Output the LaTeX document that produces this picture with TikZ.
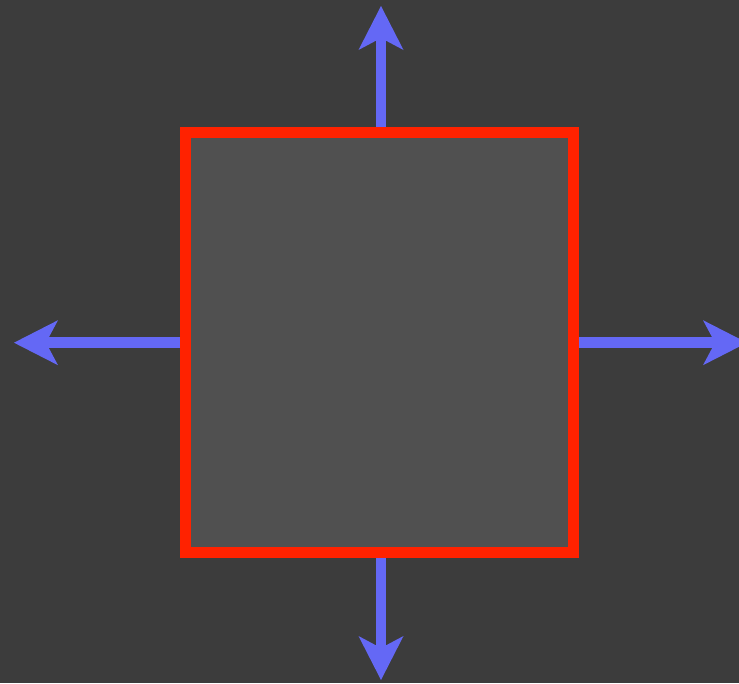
\documentclass[tikz,border=0pt]{standalone}
\usetikzlibrary{arrows.meta}
\definecolor{bgc}{HTML}{3C3C3C}
\definecolor{boxfill}{HTML}{505050}
\definecolor{boxred}{HTML}{FF2200}
\definecolor{arrowblue}{HTML}{6468F5}
\begin{document}
\begin{tikzpicture}[x=1pt,y=-1pt,
  boxstyle/.style={draw=boxred, fill=boxfill, line width=11pt, rectangle, inner sep=0pt,
    minimum width=388pt, minimum height=420pt},
  outarrow/.style={draw=arrowblue, line width=10.5pt,
    -{Stealth[length=44pt 0 0,width=45pt 0 0,inset=12pt 0 0,line width=0pt 0 0]}}]
\fill[bgc] (0,0) rectangle (739,683);
\useasboundingbox (0,0) rectangle (739,683);
\coordinate (tN) at (381,6);
\coordinate (tS) at (381,680);
\coordinate (tW) at (14,342.7);
\coordinate (tE) at (747,342.7);
\node[boxstyle] (box) at (379.5,342.5) {};
\draw[outarrow] (box.north -| tN) -- (tN);
\draw[outarrow] (box.south -| tS) -- (tS);
\draw[outarrow] (box.west |- tW) -- (tW);
\draw[outarrow] (box.east |- tE) -- (tE);
\node[boxstyle] at (box.center) {};
\end{tikzpicture}
\end{document}
